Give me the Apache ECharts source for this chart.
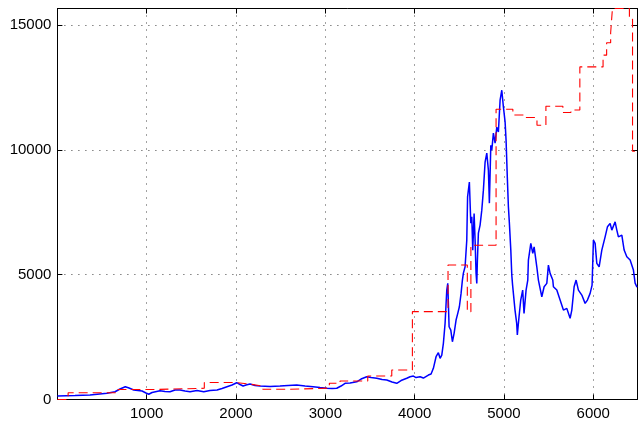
<!DOCTYPE html>
<html>
<head>
<meta charset="utf-8">
<script src="https://cdn.jsdelivr.net/npm/echarts@6/dist/echarts.min.js"></script>
<style>
  html, body { margin: 0; padding: 0; background: #fff; }
  #chart { width: 638px; height: 423px; }
</style>
</head>
<body>
<div id="chart"></div>
<script>
// Axis limits and ticks
const xMax = 6490;
const yMax = 15670;
const xTicks = [1000, 2000, 3000, 4000, 5000, 6000];
const yTicks = [0, 5000, 10000, 15000];

// Daily index level (solid blue), as [day, value]
const priceSeries = [
  [0, 140], [197, 160], [365, 180], [556, 250], [645, 310], [701, 420], [760, 513],
  [802, 460], [855, 380], [948, 340], [992, 260], [1023, 210], [1060, 280], [1149, 350],
  [1205, 320], [1261, 310], [1317, 380], [1373, 380], [1429, 340], [1485, 310],
  [1563, 360], [1639, 310], [1709, 360], [1788, 380], [1843, 440], [1899, 513],
  [1955, 580], [2008, 673], [2045, 600], [2079, 540], [2112, 580], [2157, 620],
  [2213, 560], [2269, 540], [2381, 520], [2493, 540], [2583, 560], [2680, 580],
  [2773, 540], [2863, 513], [2941, 480], [3016, 450], [3076, 440], [3128, 450],
  [3176, 540], [3221, 650], [3277, 660], [3352, 710], [3400, 820], [3464, 913],
  [3512, 880], [3576, 850], [3636, 800], [3688, 780], [3747, 700], [3800, 650],
  [3848, 760], [3912, 850], [3949, 913], [3986, 940], [4016, 880], [4061, 913],
  [4098, 860], [4154, 980], [4184, 1020], [4210, 1250], [4240, 1714], [4266, 1874],
  [4285, 1650], [4304, 1782], [4322, 2250], [4341, 3052], [4360, 4386], [4371, 4654],
  [4386, 2916], [4405, 2783], [4423, 2315], [4442, 2651], [4464, 3184], [4483, 3452],
  [4501, 3717], [4520, 4253], [4535, 4786], [4546, 5066], [4565, 5319], [4584, 6388],
  [4593, 8122], [4602, 8190], [4613, 8711], [4629, 7069], [4640, 7321], [4651, 5987],
  [4666, 7457], [4677, 6388], [4688, 5054], [4696, 4654], [4703, 5587], [4714, 6668],
  [4733, 6989], [4752, 7589], [4770, 8390], [4789, 9512], [4808, 9872], [4826, 9191],
  [4837, 7870], [4853, 10193], [4864, 9992], [4882, 10673], [4901, 10273], [4920, 10914],
  [4938, 10725], [4957, 11995], [4976, 12395], [4994, 11727], [5013, 11126], [5024, 10393],
  [5039, 8791], [5050, 7722], [5061, 7069], [5077, 5987], [5088, 4986], [5097, 4586],
  [5124, 3584], [5143, 3052], [5150, 2583], [5169, 3316], [5188, 3985], [5210, 4385],
  [5225, 3452], [5248, 4385], [5267, 4786], [5274, 5587], [5301, 6256], [5323, 5855],
  [5338, 6120], [5368, 5319], [5386, 4786], [5424, 4117], [5450, 4518], [5480, 4654],
  [5498, 5387], [5517, 5054], [5547, 4786], [5554, 4518], [5592, 4385], [5629, 3985],
  [5666, 3584], [5704, 3652], [5741, 3252], [5760, 3584], [5786, 4518], [5808, 4786],
  [5834, 4385], [5872, 4185], [5909, 3853], [5935, 3985], [5965, 4253], [5987, 4586],
  [6002, 6388], [6021, 6256], [6040, 5455], [6066, 5319], [6096, 5988], [6133, 6520],
  [6159, 6921], [6189, 7057], [6208, 6788], [6245, 7121], [6264, 6788], [6282, 6520],
  [6320, 6588], [6346, 5988], [6376, 5719], [6413, 5587], [6450, 5187], [6469, 4666],
  [6490, 4500]
];

// Piecewise-constant level (dashed red): [day the level starts, level]
const levelSteps = [
  [0, 0], [120, 270], [680, 400], [1050, 420], [1300, 450], [1645, 680],
  [2000, 620], [2150, 540], [2300, 410], [2600, 440], [2900, 460], [3045, 650],
  [3165, 740], [3475, 940], [3744, 1180], [3975, 3520], [4374, 5390], [4590, 3520],
  [4630, 6180], [4912, 11630], [5100, 11400], [5240, 11300], [5370, 10990],
  [5470, 11750], [5660, 11500], [5750, 11600], [5850, 13330], [6110, 13800],
  [6150, 14300], [6195, 14700], [6215, 15670], [6405, 15240], [6440, 9950],
  [6490, 9950]
];

const FONT = '"Liberation Sans", Arial, sans-serif';
const gridLine = { show: true, lineStyle: { color: '#444', width: 1, type: [1, 6] } };
const frame = { show: true, onZero: false, lineStyle: { color: '#000', width: 1 } };
const tickIn = { show: true, inside: true, length: 5, lineStyle: { color: '#000', width: 1 } };

const chart = echarts.init(document.getElementById('chart'), null, { renderer: 'canvas' });
chart.setOption({
  animation: false,
  backgroundColor: '#fff',
  grid: { left: 57.4, right: 1, top: 8.5, bottom: 23.5, containLabel: false },
  xAxis: [
    {
      type: 'value', min: 0, max: xMax, interval: 1000, position: 'bottom',
      axisLine: frame, axisTick: tickIn, splitLine: gridLine,
      axisLabel: {
        show: true, margin: 7, color: '#000', fontSize: 15, fontFamily: FONT,
        showMinLabel: false, showMaxLabel: false,
        formatter: v => (xTicks.indexOf(v) >= 0 ? String(v) : '')
      }
    },
    {
      type: 'value', min: 0, max: xMax, interval: 1000, position: 'top',
      axisLine: frame, axisTick: tickIn, splitLine: { show: false },
      axisLabel: { show: false }
    }
  ],
  yAxis: [
    {
      type: 'value', min: 0, max: yMax, interval: 5000, position: 'left',
      axisLine: frame, axisTick: tickIn, splitLine: gridLine,
      axisLabel: {
        show: true, margin: 6, color: '#000', fontSize: 15, fontFamily: FONT,
        showMaxLabel: false,
        formatter: v => (yTicks.indexOf(v) >= 0 ? String(v) : '')
      }
    },
    {
      type: 'value', min: 0, max: yMax, interval: 5000, position: 'right',
      axisLine: frame, axisTick: tickIn, splitLine: { show: false },
      axisLabel: { show: false }
    }
  ],
  series: [
    {
      name: 'index', type: 'line', data: priceSeries,
      showSymbol: false, symbol: 'none', z: 3,
      lineStyle: { color: '#0000ff', width: 1.5 }
    },
    {
      name: 'level', type: 'line', data: levelSteps, step: 'end',
      showSymbol: false, symbol: 'none', z: 4,
      lineStyle: { color: '#ff0000', width: 1.1, type: [9, 5] }
    }
  ]
});
</script>
</body>
</html>
